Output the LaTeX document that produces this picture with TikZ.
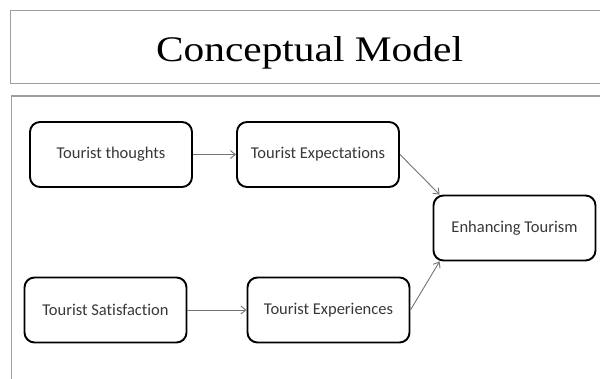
\documentclass[tikz,border=0pt]{standalone}
\usepackage{fontspec}
\setmainfont{Liberation Serif}
\newfontfamily\boxfont[Ligatures=NoCommon]{Carlito}
\usetikzlibrary{arrows.meta}
\tikzset{
	frame/.style={draw=black!38, line width=1.3pt},
	concept/.style={draw, rounded corners=10pt, line width=1.9pt, minimum width=162pt, minimum height=65pt,
		font=\boxfont\fontsize{16.5}{18}\selectfont, text=black!78},
	link/.style={draw=black!55, line width=0.9pt, -{Straight Barb[length=5pt,width=8pt]}}
}

\begin{document}
\begin{tikzpicture}[x=1pt, y=-1pt]
		%%%%% START %%%%%
		
		\useasboundingbox (0, 0) rectangle (600, 379);
		\clip (0, 0) rectangle (600, 379);
		
		\draw[frame] (10.5, 10.5) rectangle (610, 83.5);
		\draw[frame] (11.5, 96) rectangle (610, 400);
		
		\node[anchor=base] (title) at (309.5, 62) {\scalebox{1.15}[1]{\fontsize{36}{40}\selectfont Conceptual Model}};
		
		\node[concept] (thoughts) at (111, 154.5) {Tourist thoughts};
		\node[concept] (expect) at (318, 154.5) {Tourist Expectations};
		\node[concept] (enhance) at (514.5, 228) {Enhancing Tourism};
		\node[concept] (satisf) at (105.5, 310) {Tourist Satisfaction};
		\node[concept] (experi) at (328.5, 310) {Tourist Experiences};
		
		\draw[link] (thoughts) -- (expect);
		\draw[link] (satisf) -- (experi);
		\draw[link] (expect.east) -- ([xshift=7pt]enhance.north west);
		\draw[link] (experi.east) -- ([xshift=7pt]enhance.south west);
		
		%%%%% END %%%%%
\end{tikzpicture}
\end{document}
